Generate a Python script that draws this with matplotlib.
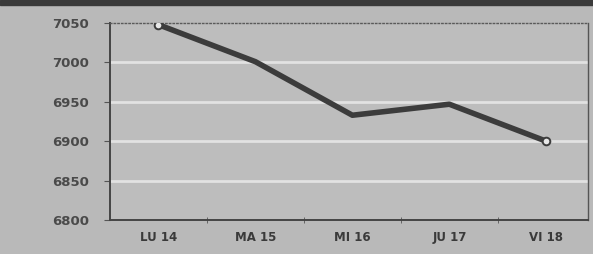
import matplotlib
matplotlib.use("Agg")
import matplotlib.pyplot as plt
from matplotlib.patches import Rectangle

# data
days = ["LU 14", "MA 15", "MI 16", "JU 17", "VI 18"]
values = [7048, 7001, 6933, 6947, 6900]
y_ticks = [6800, 6850, 6900, 6950, 7000, 7050]

bg = "#b9b9b9"
ink = "#3c3c3c"

fig = plt.figure(figsize=(5.93, 2.54), dpi=100, facecolor=bg)
# dark strip across the top edge of the clipping
fig.patches.append(Rectangle((0, 0.98), 1, 0.02, transform=fig.transFigure,
                             color="#3a3a3a", zorder=0))
ax = fig.add_axes([0.1855, 0.134, 0.806, 0.775])
ax.set_facecolor("#bdbdbd")

x = range(len(days))
ax.plot(x, values, color=ink, linewidth=4, solid_capstyle="round", zorder=3)
ax.plot([0, len(days) - 1], [values[0], values[-1]], linestyle="none",
        marker="o", markersize=5.5, markerfacecolor="#e8e8e8",
        markeredgecolor=ink, markeredgewidth=1.4, zorder=4)

ax.set_xlim(-0.5, 4.43)
ax.set_ylim(6800, 7050)
ax.set_yticks(y_ticks)
ax.set_yticklabels([str(v) for v in y_ticks])
ax.set_xticks(x)
ax.set_xticklabels(days)
ax.set_xticks([i + 0.5 for i in range(len(days) - 1)], minor=True)

for v in y_ticks[1:-1]:
    ax.axhline(v, color="#e2e2e2", linewidth=2, zorder=1)

ax.tick_params(axis="y", length=4, color="#555555", pad=11, labelsize=9.5,
               labelcolor="#4a4a4a")
ax.tick_params(axis="x", which="major", length=0, pad=8, labelsize=8.5,
               labelcolor="#3a3a3a")
ax.tick_params(axis="x", which="minor", length=4, direction="inout",
               color="#555555")
for lab in ax.get_xticklabels() + ax.get_yticklabels():
    lab.set_fontweight("semibold")

for side in ["left", "bottom"]:
    ax.spines[side].set_color("#444444")
    ax.spines[side].set_linewidth(1.4)
ax.spines["right"].set_color("#555555")
ax.spines["right"].set_linewidth(1.0)
ax.spines["top"].set_color("#5a5a5a")
ax.spines["top"].set_linestyle(":")
ax.spines["top"].set_linewidth(1.0)

fig.savefig("out.png", dpi=100, facecolor=bg)
